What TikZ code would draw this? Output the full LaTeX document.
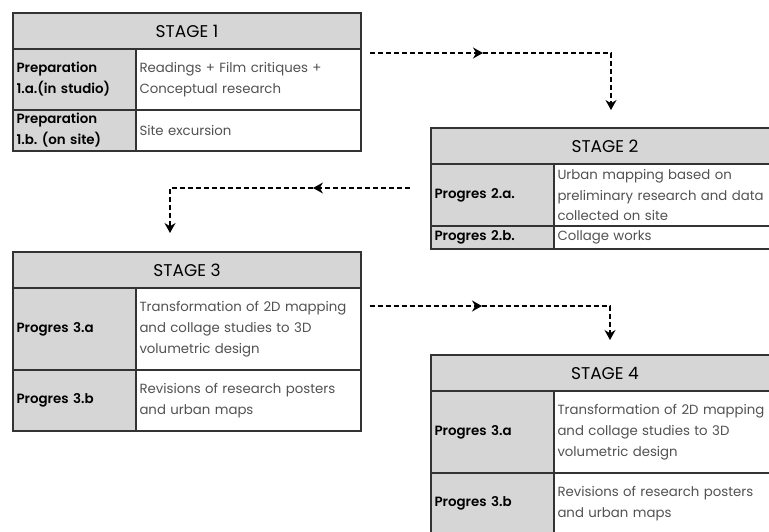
\documentclass[tikz,border=0pt]{standalone}
\usepackage{fontspec}
\setmainfont{Poppins}[BoldFont={Poppins SemiBold}]
\usetikzlibrary{positioning,arrows.meta}
\colorlet{cellgray}{black!16}
\colorlet{rulegray}{black!80}
\colorlet{textgray}{black!68}
\frenchspacing

\begin{document}
\begin{tikzpicture}[x=1pt,y=-1pt]
\tikzset{cellbox/.style={draw=rulegray, line width=1.3pt, inner xsep=3.5pt, inner ysep=0pt, outer sep=0pt, anchor=north west, align=left}}
\tikzset{headbox/.style={cellbox, fill=cellgray, minimum width=348pt, minimum height=36pt, align=center, font=\fontsize{17}{19}\selectfont}}
\tikzset{labbox/.style={cellbox, fill=cellgray, text width=116pt, minimum height=#1, font=\fontsize{13.4}{21}\selectfont\bfseries}}
\tikzset{descbox/.style={cellbox, fill=white, text width=218pt, minimum height=#1, text=textgray, font=\fontsize{13.3}{21}\selectfont}}
\tikzset{flow/.style={dashed, dash pattern=on 5pt off 3pt, line width=1.1pt, -{Stealth[length=10pt,width=11pt]}}}
\useasboundingbox (0,0) rectangle (769,532);
\clip (0,0) rectangle (769,532);
% stage 1
\node[headbox] (s1) at (13,13) {STAGE 1};
\node[labbox=61pt] (s1a) at (s1.south west) {Preparation\\1.a.(in studio)};
\node[descbox=61pt] (s1ad) at (s1a.north east) {Readings + Film critiques +\\Conceptual research};
\node[labbox=41pt] (s1b) at (s1a.south west) {Preparation\\1.b. (on site)};
\node[descbox=41pt] (s1bd) at (s1b.north east) {Site excursion};
% stage 2
\node[headbox] (s2) at (431,128) {STAGE 2};
\node[labbox=62pt] (s2a) at (s2.south west) {Progres 2.a.};
\node[descbox=62pt] (s2ad) at (s2a.north east) {Urban mapping based on\\preliminary research and data\\collected on site};
\node[labbox=23pt] (s2b) at (s2a.south west) {Progres 2.b.};
\node[descbox=23pt] (s2bd) at (s2b.north east) {Collage works};
% stage 3 and 4
\foreach \n/\x/\y in {3/13/252, 4/431/355}{
  \node[headbox] (s\n) at (\x,\y) {STAGE \n};
  \node[labbox=82pt] (s\n a) at (s\n.south west) {Progres 3.a};
  \node[descbox=82pt] (s\n ad) at (s\n a.north east) {Transformation of 2D mapping\\and collage studies to 3D\\volumetric design};
  \node[labbox=61pt] (s\n b) at (s\n a.south west) {Progres 3.b};
  \node[descbox=61pt] (s\n bd) at (s\n b.north east) {Revisions of research posters\\and urban maps};
}
% connectors
\coordinate (p1) at ([xshift=9pt,yshift=-4pt]s1.south east);
\coordinate (m1) at ([xshift=113pt]p1);
\coordinate (q1) at ([xshift=6pt,yshift=18pt]s2.north);
\draw[flow] (p1) -- (m1);
\draw[flow] (m1) -| (q1);
\coordinate (p2) at ([xshift=-21pt,yshift=-24pt]s2a.north west);
\coordinate (m2) at ([xshift=-97pt]p2);
\coordinate (q2) at ([xshift=-17pt,yshift=19pt]s3.north);
\draw[flow] (p2) -- (m2);
\draw[flow] (m2) -| (q2);
\coordinate (p3) at ([xshift=9pt,yshift=-18pt]s3.south east);
\coordinate (m3) at ([xshift=112pt]p3);
\coordinate (q3) at ([xshift=5pt,yshift=15pt]s4.north);
\draw[flow] (p3) -- (m3);
\draw[flow] (m3) -| (q3);
\end{tikzpicture}
\end{document}
